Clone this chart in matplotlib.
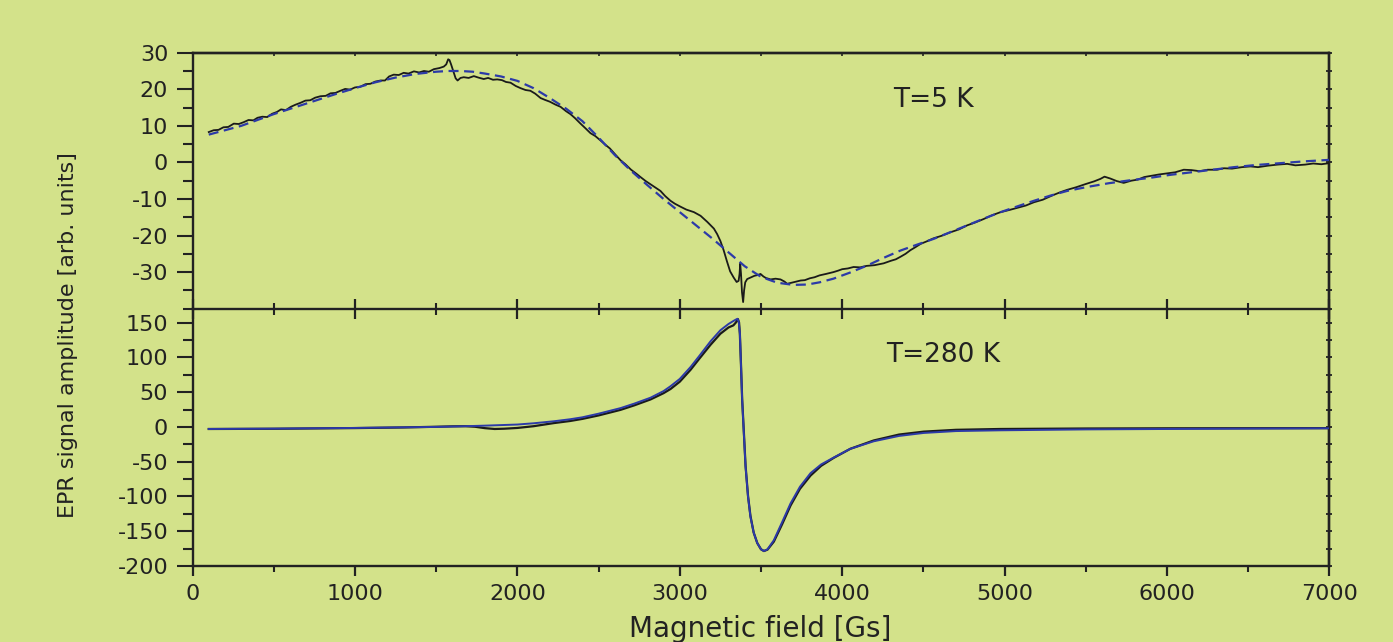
import matplotlib
matplotlib.use("Agg")
import matplotlib.pyplot as plt
from matplotlib.ticker import MultipleLocator

# ---- T = 5 K : measured spectrum ----
field_5k = [100, 130, 160, 190, 220, 254, 285, 315, 345, 375, 400, 430, 460, 490, 520,
            545, 575, 605, 635, 665, 695, 725, 755, 788, 820, 850, 880, 911, 940, 970,
            1000, 1034, 1065, 1095, 1125, 1158, 1185, 1210, 1239, 1270, 1300, 1330,
            1363, 1395, 1425, 1455, 1486, 1520, 1547, 1562, 1574, 1582, 1592, 1605,
            1620, 1632, 1650, 1670, 1700, 1732, 1760, 1793, 1820, 1850, 1876, 1905,
            1930, 1958, 1990, 2020, 2050, 2080, 2110, 2143, 2170, 2200, 2235, 2266,
            2300, 2327, 2355, 2389, 2420, 2450, 2480, 2512, 2540, 2570, 2600, 2635,
            2665, 2700, 2730, 2758, 2790, 2820, 2850, 2881, 2910, 2943, 2970, 3004,
            3040, 3087, 3128, 3170, 3210, 3230, 3250, 3270, 3290, 3310, 3332, 3350,
            3362, 3368, 3372, 3377, 3383, 3390, 3396, 3403, 3415, 3435, 3460, 3480,
            3497, 3515, 3530, 3559, 3590, 3620, 3645, 3661, 3680, 3700, 3720, 3744,
            3770, 3800, 3830, 3860, 3900, 3946, 3975, 4000, 4035, 4070, 4110, 4150,
            4200, 4255, 4300, 4330, 4359, 4390, 4420, 4450, 4482, 4520, 4560, 4610,
            4667, 4720, 4770, 4820, 4870, 4920, 4975, 5030, 5080, 5130, 5180, 5235,
            5290, 5340, 5385, 5440, 5500, 5550, 5590, 5615, 5650, 5690, 5733, 5780,
            5820, 5860, 5898, 5950, 6000, 6050, 6103, 6150, 6200, 6250, 6308, 6350,
            6400, 6460, 6514, 6560, 6620, 6680, 6740, 6790, 6850, 6900, 6950, 7000]
signal_5k = [8.3, 8.8, 8.9, 9.6, 9.7, 10.6, 10.5, 11.0, 11.6, 11.5, 12.2, 12.5, 12.4,
             13.3, 13.8, 14.5, 14.3, 15.2, 15.8, 16.3, 16.9, 17.0, 17.7, 18.1, 18.2,
             18.9, 19.0, 19.6, 20.1, 19.9, 20.5, 20.7, 21.4, 21.5, 22.1, 22.4, 22.4,
             23.5, 24.0, 23.9, 24.5, 24.3, 24.9, 24.6, 25.0, 24.8, 25.5, 25.8, 26.2,
             26.8, 28.2, 28.0, 26.8, 25.0, 23.0, 22.4, 23.1, 23.3, 23.1, 23.6, 23.2,
             22.8, 23.1, 22.6, 22.7, 22.5, 22.0, 21.8, 20.9, 20.3, 19.8, 19.6, 18.8,
             17.6, 17.1, 16.6, 15.8, 15.2, 14.0, 13.2, 12.1, 10.6, 9.3, 8.0, 7.2,
             6.0, 4.9, 3.8, 2.3, 0.6, -0.5, -2.0, -3.0, -4.0, -5.1, -6.0, -6.9, -7.8,
             -9.2, -10.5, -11.3, -12.1, -12.9, -13.6, -14.6, -16.3, -18.1, -19.6,
             -21.5, -24.0, -27.0, -29.8, -31.5, -32.7, -32.4, -30.5, -27.7, -30.5,
             -35.5, -38.2, -35.0, -32.8, -31.9, -31.5, -31.0, -30.8, -30.5, -31.2,
             -31.6, -32.0, -31.8, -32.0, -32.6, -33.2, -33.0, -32.8, -32.6, -32.3,
             -32.2, -31.7, -31.4, -30.9, -30.5, -30.0, -29.6, -29.2, -29.0, -28.6,
             -28.7, -28.3, -28.1, -27.6, -26.9, -26.5, -25.8, -25.0, -24.0, -23.2,
             -22.3, -21.6, -20.8, -20.1, -19.1, -18.3, -17.2, -16.4, -15.5, -14.5,
             -13.6, -13.0, -12.4, -11.8, -10.9, -10.2, -9.1, -8.2, -7.5, -6.8, -5.9,
             -5.2, -4.5, -3.9, -4.4, -5.1, -5.6, -5.0, -4.7, -4.0, -3.7, -3.3, -3.0,
             -2.7, -2.0, -2.1, -2.4, -2.0, -2.0, -1.6, -1.7, -1.3, -1.1, -1.3, -0.9,
             -0.6, -0.4, -0.8, -0.6, -0.3, -0.5, -0.2]

# ---- T = 5 K : fit ----
fit_field_5k = [100, 200, 300, 400, 500, 625, 750, 875, 1000, 1125, 1250, 1375, 1500,
                1575, 1650, 1725, 1800, 1900, 2000, 2100, 2200, 2300, 2400, 2500, 2600,
                2700, 2800, 2900, 3000, 3100, 3200, 3300, 3400, 3500, 3600, 3700, 3785,
                3860, 3946, 4050, 4154, 4250, 4359, 4460, 4564, 4670, 4770, 4870, 4975,
                5080, 5180, 5280, 5385, 5510, 5640, 5770, 5898, 6020, 6150, 6280, 6411,
                6550, 6700, 6850, 7000]
fit_5k = [7.6, 8.8, 10.0, 11.6, 13.2, 15.0, 16.8, 18.6, 20.3, 21.9, 23.2, 24.2, 24.8,
          25.0, 25.0, 24.8, 24.3, 23.5, 22.3, 20.3, 17.6, 14.7, 11.3, 6.8, 2.0, -2.3,
          -6.2, -10.0, -13.6, -17.2, -20.8, -24.6, -28.4, -31.3, -32.9, -33.5, -33.4,
          -32.8, -31.8, -30.1, -28.2, -26.2, -24.1, -22.5, -20.9, -19.0, -17.2, -15.4,
          -13.6, -12.0, -10.5, -9.1, -7.8, -6.7, -5.7, -4.9, -4.2, -3.4, -2.7, -2.0,
          -1.3, -0.7, -0.2, 0.3, 0.7]

# ---- T = 280 K : measured spectrum ----
field_280k = [100, 500, 1000, 1300, 1500, 1600, 1680, 1740, 1800, 1860, 1920, 2000,
              2100, 2225, 2325, 2400, 2500, 2635, 2720, 2820, 2900, 2943, 3000, 3066,
              3120, 3189, 3250, 3300, 3330, 3345, 3358, 3365, 3370, 3377, 3384, 3395,
              3405, 3420, 3435, 3455, 3477, 3500, 3518, 3540, 3579, 3630, 3682, 3740,
              3805, 3870, 3948, 4050, 4194, 4350, 4502, 4700, 4975, 5500, 6000, 6500,
              7000]
signal_280k = [-3.0, -2.7, -1.7, -0.8, 0.2, 0.8, 1.0, 0.2, -1.8, -3.0, -2.6, -1.5,
               1.0, 5.5, 8.5, 11.5, 16.5, 24.5, 31.0, 39.5, 48.5, 54.5, 65.0, 82.0,
               98.0, 118.0, 134.0, 143.0, 146.0, 150.0, 155.0, 150.0, 133.0, 88.0,
               40.0, -10.0, -56.0, -99.0, -128.0, -152.0, -167.0, -176.0, -178.5,
               -176.5, -165.0, -140.0, -113.0, -89.0, -70.0, -56.0, -44.5, -31.5,
               -19.5, -11.0, -6.8, -4.2, -3.0, -2.3, -2.0, -1.9, -1.8]

# ---- T = 280 K : fit ----
fit_field_280k = [100, 500, 1000, 1300, 1500, 1650, 1800, 1900, 2000, 2100, 2225,
                  2325, 2400, 2500, 2635, 2720, 2820, 2900, 2943, 3000, 3066, 3120,
                  3189, 3250, 3300, 3335, 3355, 3363, 3370, 3377, 3384, 3395, 3405,
                  3420, 3435, 3455, 3477, 3500, 3518, 3540, 3579, 3630, 3682, 3740,
                  3805, 3870, 3948, 4050, 4194, 4350, 4502, 4700, 4975, 5500, 6000,
                  6500, 7000]
fit_280k = [-3.0, -2.5, -1.5, -0.6, 0.0, 0.8, 1.8, 2.6, 3.4, 5.2, 8.1, 11.0, 13.8,
            19.0, 27.0, 33.5, 42.0, 51.5, 58.5, 69.0, 86.0, 102.0, 123.0, 139.0, 148.0,
            153.0, 155.5, 151.0, 135.0, 88.0, 39.0, -12.0, -57.0, -100.0, -129.0,
            -152.0, -167.0, -176.0, -178.5, -176.0, -163.0, -137.0, -110.0, -86.0,
            -66.5, -54.0, -44.0, -31.5, -20.7, -13.0, -8.7, -6.0, -4.9, -3.6, -3.0,
            -2.5, -2.0]

x_ticks = [0, 1000, 2000, 3000, 4000, 5000, 6000, 7000]
top_y_ticks = [-30, -20, -10, 0, 10, 20, 30]
bottom_y_ticks = [-200, -150, -100, -50, 0, 50, 100, 150]

BG = "#d3e28a"
INK = "#222222"
BLUE = "#2c3aa8"
plt.rcParams["font.family"] = ["DejaVu Sans"]
plt.rcParams["axes.unicode_minus"] = False

fig = plt.figure(figsize=(13.93, 6.42), dpi=100, facecolor=BG)
ax_top = fig.add_axes([0.1382, 0.5192, 0.8162, 0.3987])
ax_bot = fig.add_axes([0.1382, 0.1184, 0.8162, 0.4008])
ax_top.set_zorder(3)

for ax in (ax_top, ax_bot):
    ax.set_facecolor(BG)
    ax.set_xlim(0, 7000)
    ax.set_xticks(x_ticks)
    ax.xaxis.set_minor_locator(MultipleLocator(500))
    for sp in ax.spines.values():
        sp.set_linewidth(1.7)
        sp.set_color(INK)
    ax.tick_params(axis="y", which="major", direction="out", length=11.5, width=1.5,
                   labelsize=16, pad=6, colors=INK, right=False)
    ax.tick_params(axis="y", which="minor", direction="out", length=7, width=1.5,
                   colors=INK, right=False)

# top panel
ax_top.plot(field_5k, signal_5k, color="#1a1a1a", lw=1.3, zorder=3)
ax_top.plot(fit_field_5k, fit_5k, color=BLUE, lw=1.6, dashes=(4.5, 2.5), zorder=4)
ax_top.set_ylim(-40, 30)
ax_top.set_yticks(top_y_ticks)
ax_top.yaxis.set_minor_locator(MultipleLocator(5))
ax_top.tick_params(axis="x", which="major", direction="inout", length=14, width=1.6,
                   labelbottom=False, top=False, colors=INK)
ax_top.tick_params(axis="x", which="minor", direction="inout", length=8, width=1.5,
                   top=False, colors=INK)
ax_top.text(4316, 17.2, "T=5 K", fontsize=19, color=INK, va="center", ha="left")

# bottom panel
ax_bot.plot(field_280k, signal_280k, color="#1a1a1a", lw=1.6, zorder=3)
ax_bot.plot(fit_field_280k, fit_280k, color=BLUE, lw=1.4, zorder=4)
ax_bot.set_ylim(-200, 170)
ax_bot.set_yticks(bottom_y_ticks)
ax_bot.yaxis.set_minor_locator(MultipleLocator(25))
ax_bot.tick_params(axis="x", which="major", direction="out", length=7, width=1.6,
                   labelsize=16, pad=6, top=False, colors=INK)
ax_bot.tick_params(axis="x", which="minor", direction="out", length=4, width=1.5,
                   top=False, colors=INK)
ax_bot.spines["top"].set_visible(False)
ax_bot.text(4273, 104, "T=280 K", fontsize=19, color=INK, va="center", ha="left")

# short ticks along the right edge of both panels and the top edge
for ax, step in ((ax_top, 5), (ax_bot, 25)):
    right = ax.secondary_yaxis("right")
    right.set_yticks(ax.get_yticks())
    right.yaxis.set_minor_locator(MultipleLocator(step))
    right.tick_params(which="both", direction="inout", length=4, width=1.3,
                      labelright=False, colors=INK)
    right.spines["right"].set_linewidth(1.7)
    right.spines["right"].set_color(INK)

top = ax_top.secondary_xaxis("top")
top.set_xticks(x_ticks)
top.xaxis.set_minor_locator(MultipleLocator(500))
top.tick_params(which="both", direction="in", length=2.5, width=1.2,
                labeltop=False, colors=INK)
top.spines["top"].set_linewidth(1.7)
top.spines["top"].set_color(INK)

fig.text(0.546, 0.021, "Magnetic field [Gs]", fontsize=20, color=INK,
         ha="center", va="center")
fig.text(0.049, 0.478, "EPR signal amplitude [arb. units]", fontsize=16,
         color=INK, ha="center", va="center", rotation=90)

fig.savefig("out.png", dpi=100, facecolor=BG)
